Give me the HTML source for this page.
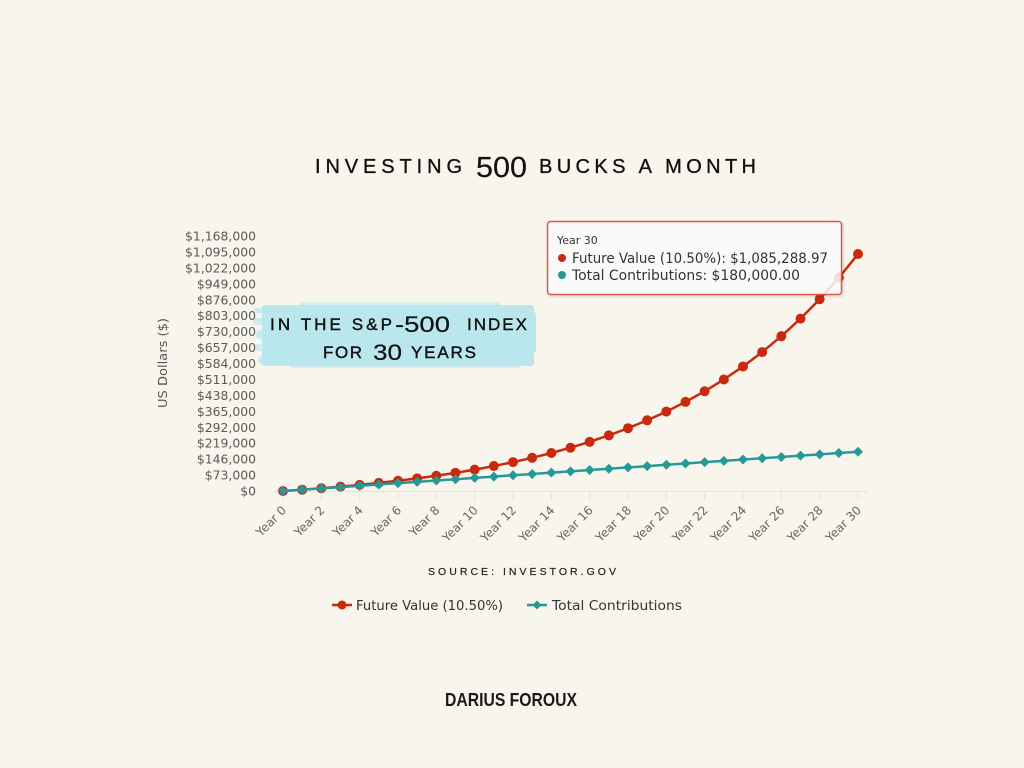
<!DOCTYPE html>
<html><head><meta charset="utf-8"><style>
html,body{margin:0;padding:0;background:#f8f5ed;}
svg{display:block;}
</style></head><body>
<svg width="1024" height="768" viewBox="0 0 1024 768" xmlns="http://www.w3.org/2000/svg">
<defs>
<marker id="mc" markerUnits="userSpaceOnUse" markerWidth="12" markerHeight="12" refX="6" refY="6" viewBox="0 0 12 12"><circle cx="6" cy="6" r="5" fill="#c8290f"/></marker>
<marker id="md" markerUnits="userSpaceOnUse" markerWidth="12" markerHeight="12" refX="6" refY="6" viewBox="0 0 12 12"><path d="M6,1 L11,6 L6,11 L1,6 Z" fill="#279898"/></marker>
</defs>
<rect width="1024" height="768" fill="#f8f5ed"/>

<!-- Title -->
<g font-family="Liberation Sans, sans-serif" fill="#111" stroke="#111" stroke-width="0.35">
<text x="315" y="173" font-size="20" textLength="147" lengthAdjust="spacing">INVESTING</text>
<text x="476" y="177" font-size="29" textLength="51" lengthAdjust="spacingAndGlyphs" stroke-width="0.2">500</text>
<text x="539" y="173" font-size="20" textLength="217" lengthAdjust="spacing">BUCKS A MONTH</text>
</g>

<!-- brush highlight -->
<g fill="#b9e7ed">
<rect x="262" y="305" width="272" height="61" rx="3"/>
<rect x="254" y="308" width="30" height="5" rx="2.5" opacity="0.75"/>
<rect x="253" y="318" width="30" height="7" rx="3.5" opacity="0.65"/>
<rect x="256" y="330" width="28" height="9" rx="4" opacity="0.75"/>
<rect x="254" y="344" width="30" height="7" rx="3.5" opacity="0.65"/>
<rect x="258" y="356" width="26" height="8" rx="4" opacity="0.75"/>
<rect x="300" y="302.5" width="200" height="4" rx="2" opacity="0.6"/>
<rect x="522" y="310" width="14" height="45" rx="6"/>
<rect x="290" y="364" width="230" height="4" rx="2" opacity="0.6"/>
</g>
<g font-family="Liberation Sans, sans-serif" fill="#111" stroke="#111" stroke-width="0.4">
<text x="270" y="330" font-size="17" textLength="122" lengthAdjust="spacing">IN THE S&amp;P</text>
<text x="395" y="332" font-size="22" textLength="55" lengthAdjust="spacingAndGlyphs" stroke-width="0.2">-500</text>
<text x="467" y="330" font-size="17" textLength="60" lengthAdjust="spacing">INDEX</text>
<text x="323" y="358" font-size="17" textLength="39" lengthAdjust="spacing">FOR</text>
<text x="373" y="360" font-size="22" textLength="29" lengthAdjust="spacingAndGlyphs" stroke-width="0.2">30</text>
<text x="411" y="358" font-size="17" textLength="65" lengthAdjust="spacing">YEARS</text>
</g>

<!-- Y axis title -->
<text transform="translate(167,363) rotate(-90)" text-anchor="middle" font-family="DejaVu Sans, sans-serif" font-size="12" fill="#555" textLength="90" lengthAdjust="spacingAndGlyphs">US Dollars ($)</text>

<!-- Y labels -->
<g font-family="DejaVu Sans, sans-serif" font-size="12.4" fill="#5a5a5a" text-anchor="end">
<text x="256" y="495.5">$0</text>
<text x="256" y="479.6">$73,000</text>
<text x="256" y="463.6">$146,000</text>
<text x="256" y="447.7">$219,000</text>
<text x="256" y="431.8">$292,000</text>
<text x="256" y="415.8">$365,000</text>
<text x="256" y="399.9">$438,000</text>
<text x="256" y="383.9">$511,000</text>
<text x="256" y="368">$584,000</text>
<text x="256" y="352.1">$657,000</text>
<text x="256" y="336.1">$730,000</text>
<text x="256" y="320.2">$803,000</text>
<text x="256" y="304.3">$876,000</text>
<text x="256" y="288.3">$949,000</text>
<text x="256" y="272.4">$1,022,000</text>
<text x="256" y="256.4">$1,095,000</text>
<text x="256" y="240.5">$1,168,000</text>
</g>

<!-- X axis -->
<line x1="273" y1="491.5" x2="868" y2="491.5" stroke="#e4e2dc" stroke-width="1"/>
<g stroke="#e4e2dc" stroke-width="1">
<line x1="283" y1="491" x2="283" y2="501"/><line x1="321.3" y1="491" x2="321.3" y2="501"/><line x1="359.7" y1="491" x2="359.7" y2="501"/><line x1="398" y1="491" x2="398" y2="501"/><line x1="436.3" y1="491" x2="436.3" y2="501"/><line x1="474.7" y1="491" x2="474.7" y2="501"/><line x1="513" y1="491" x2="513" y2="501"/><line x1="551.3" y1="491" x2="551.3" y2="501"/><line x1="589.7" y1="491" x2="589.7" y2="501"/><line x1="628" y1="491" x2="628" y2="501"/><line x1="666.3" y1="491" x2="666.3" y2="501"/><line x1="704.7" y1="491" x2="704.7" y2="501"/><line x1="743" y1="491" x2="743" y2="501"/><line x1="781.3" y1="491" x2="781.3" y2="501"/><line x1="819.7" y1="491" x2="819.7" y2="501"/><line x1="858" y1="491" x2="858" y2="501"/>
</g>
<g font-family="DejaVu Sans, sans-serif" font-size="12" fill="#666" text-anchor="end">
<text transform="translate(287,511) rotate(-45)">Year 0</text>
<text transform="translate(325.3,511) rotate(-45)">Year 2</text>
<text transform="translate(363.7,511) rotate(-45)">Year 4</text>
<text transform="translate(402,511) rotate(-45)">Year 6</text>
<text transform="translate(440.3,511) rotate(-45)">Year 8</text>
<text transform="translate(478.7,511) rotate(-45)">Year 10</text>
<text transform="translate(517,511) rotate(-45)">Year 12</text>
<text transform="translate(555.3,511) rotate(-45)">Year 14</text>
<text transform="translate(593.7,511) rotate(-45)">Year 16</text>
<text transform="translate(632,511) rotate(-45)">Year 18</text>
<text transform="translate(670.3,511) rotate(-45)">Year 20</text>
<text transform="translate(708.7,511) rotate(-45)">Year 22</text>
<text transform="translate(747,511) rotate(-45)">Year 24</text>
<text transform="translate(785.3,511) rotate(-45)">Year 26</text>
<text transform="translate(823.7,511) rotate(-45)">Year 28</text>
<text transform="translate(862,511) rotate(-45)">Year 30</text>
</g>

<!-- Series: Future value -->
<polyline fill="none" stroke="#c8290f" stroke-width="2.5" stroke-linejoin="round" marker-start="url(#mc)" marker-mid="url(#mc)" marker-end="url(#mc)"
points="283,491 302.17,489.69 321.33,488.24 340.5,486.64 359.67,484.88 378.83,482.92 398,480.76 417.17,478.38 436.33,475.75 455.5,472.83 474.67,469.62 493.83,466.06 513,462.13 532.17,457.79 551.33,452.99 570.5,447.69 589.67,441.84 608.83,435.36 628,428.21 647.17,420.31 666.33,411.58 685.5,401.93 704.67,391.27 723.83,379.48 743,366.47 762.17,352.08 781.33,336.18 800.5,318.62 819.67,299.21 838.83,277.76 858,254.06"/>
<!-- Series: Contributions -->
<polyline fill="none" stroke="#279898" stroke-width="2.5" stroke-linejoin="round" marker-start="url(#md)" marker-mid="url(#md)" marker-end="url(#md)"
points="283,491 302.17,489.69 321.33,488.38 340.5,487.07 359.67,485.76 378.83,484.45 398,483.14 417.17,481.83 436.33,480.52 455.5,479.21 474.67,477.9 493.83,476.59 513,475.28 532.17,473.97 551.33,472.66 570.5,471.35 589.67,470.04 608.83,468.73 628,467.42 647.17,466.11 666.33,464.8 685.5,463.49 704.67,462.18 723.83,460.87 743,459.56 762.17,458.25 781.33,456.94 800.5,455.63 819.67,454.32 838.83,453.01 858,451.7"/>

<!-- Tooltip -->
<rect x="549" y="223" width="294" height="73" rx="3" fill="none" stroke="rgba(0,0,0,0.08)" stroke-width="3"/>
<rect x="547.5" y="221.5" width="294" height="73" rx="3" fill="rgba(250,250,250,0.86)" stroke="#d85a4b" stroke-width="1.5"/>
<g font-family="DejaVu Sans, sans-serif" fill="#333">
<text x="557" y="244" font-size="11">Year 30</text>
<circle cx="562" cy="258" r="4" fill="#c8290f"/>
<text x="572" y="263" font-size="14" textLength="256" lengthAdjust="spacingAndGlyphs">Future Value (10.50%): $1,085,288.97</text>
<circle cx="562" cy="275" r="4" fill="#279898"/>
<text x="572" y="280" font-size="14" textLength="228" lengthAdjust="spacingAndGlyphs">Total Contributions: $180,000.00</text>
</g>

<!-- Source -->
<text x="428" y="575" font-family="Liberation Sans, sans-serif" font-size="10.5" fill="#222" stroke="#222" stroke-width="0.2" textLength="188" lengthAdjust="spacing">SOURCE: INVESTOR.GOV</text>

<!-- Legend -->
<line x1="332" y1="605" x2="352" y2="605" stroke="#c8290f" stroke-width="2.5"/>
<circle cx="342" cy="605" r="4.5" fill="#c8290f"/>
<text x="356" y="610" font-family="DejaVu Sans, sans-serif" font-size="13" fill="#333" textLength="147" lengthAdjust="spacingAndGlyphs">Future Value (10.50%)</text>
<line x1="527" y1="605" x2="547" y2="605" stroke="#279898" stroke-width="2.5"/>
<path d="M537,600.5 L541.5,605 L537,609.5 L532.5,605 Z" fill="#279898"/>
<text x="552" y="610" font-family="DejaVu Sans, sans-serif" font-size="13" fill="#333" textLength="130" lengthAdjust="spacingAndGlyphs">Total Contributions</text>

<!-- Signature -->
<text x="445" y="706" font-family="Liberation Sans, sans-serif" font-size="18" font-weight="bold" fill="#1a1a1a" textLength="132" lengthAdjust="spacingAndGlyphs">DARIUS FOROUX</text>
</svg>
</body></html>
